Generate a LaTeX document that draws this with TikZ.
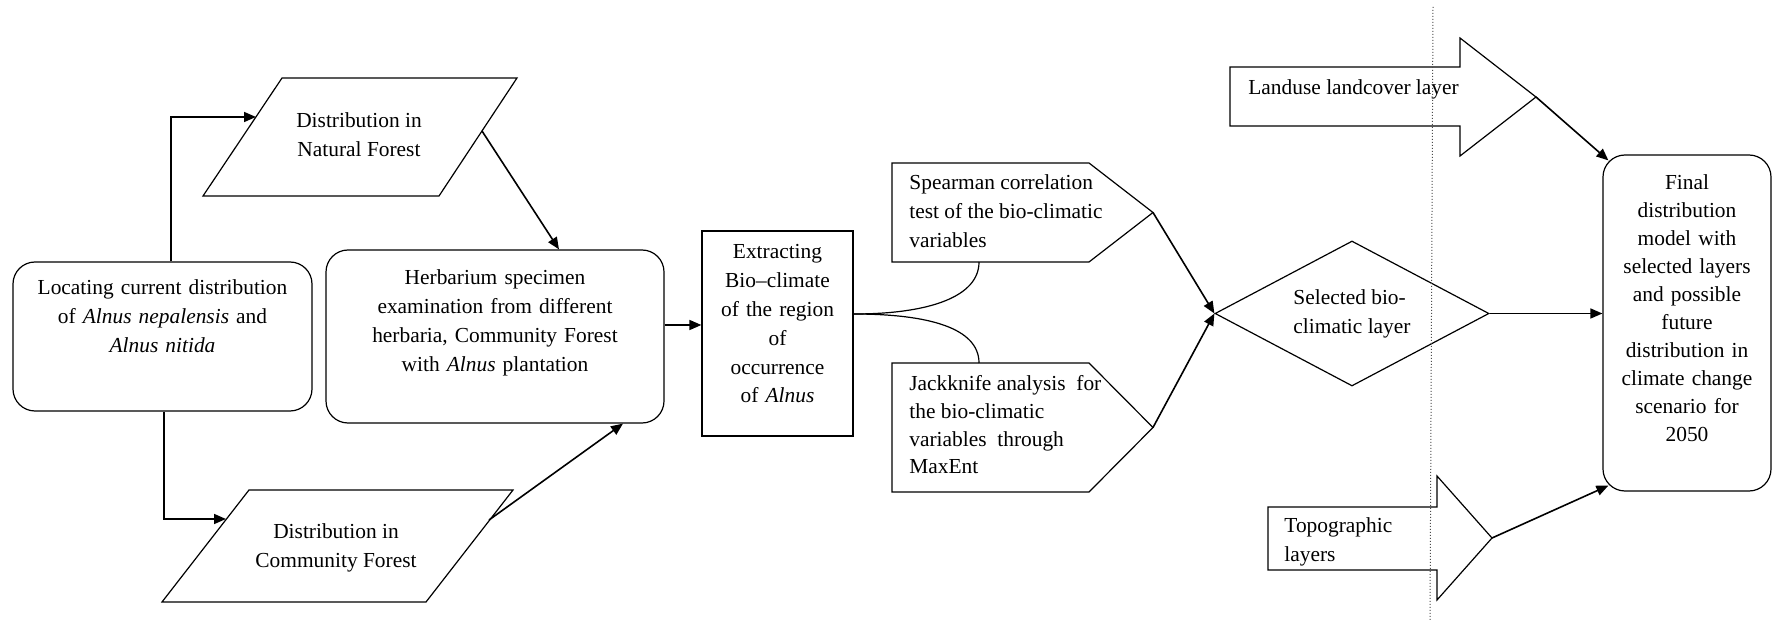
\documentclass[tikz,border=0pt]{standalone}
\usepackage{fontspec}
\setmainfont{Liberation Serif}
\usetikzlibrary{arrows.meta,shapes.geometric,calc}
\begin{document}
\begin{tikzpicture}[x=0.5pt,y=-0.5pt,
  txt/.style={font=\fontsize{10.7pt}{14.4pt}\selectfont,inner sep=0pt},
  box/.style={txt,draw,line width=0.6pt,align=center},
  roundbox/.style={box,rounded corners=11pt},
  shapeline/.style={draw,line width=0.6pt},
  arr/.style={line width=0.8pt,-{Triangle[length=6pt,width=5pt]}}]
\useasboundingbox (0,0) rectangle (1774,620);

\node[roundbox,text width=149.5pt,text height=16.5pt,text depth=58pt] (loc) at (162.5,336.5) {Locating current distribution\\of \emph{Alnus nepalensis} and\\\emph{Alnus nitida}};
\node[roundbox,text width=169pt,text height=17.5pt,text depth=69pt] (herb) at (495,336.5) {Herbarium specimen\\examination from different\\herbaria, Community Forest\\with \emph{Alnus} plantation};
\node[box,text width=75.5pt,text height=14pt,text depth=88.5pt] (extract) at (777.5,333.5) {Extracting\\Bio--climate\\of the region\\of\\occurrence\\of \emph{Alnus}};
\node[roundbox,font=\fontsize{10.7pt}{13.95pt}\selectfont,text width=84pt,text height=17.5pt,text depth=150.5pt] (final) at (1687,323) {Final\\distribution\\model with\\selected layers\\and possible\\future\\distribution in\\climate change\\scenario for\\2050};
\node[box,shape=diamond,aspect=1.9,minimum width=137pt,minimum height=72.5pt,align=left] (sel) at (1352,313.5) {Selected bio-\\climatic layer};

\path[shapeline] (203,196) -- (439,196) -- (517,78) -- (282,78) -- cycle;
\node[txt,align=center] (nf) at (359,135) {Distribution in\\Natural Forest};
\path[shapeline] (162,602) -- (426,602) -- (513,490) -- (249,490) -- cycle;
\node[txt,align=center] (cf) at (336,548) {Distribution in\\Community Forest};
\coordinate (nfin) at (256,117);
\coordinate (nfout) at (482,131);
\coordinate (cfin) at (226,519);
\coordinate (cfout) at (489,520);

\path[shapeline] (892,163) -- (1089,163) -- (1153,212.5) coordinate (speartip) -- (1089,262) -- (892,262) -- cycle;
\node[txt,align=left,anchor=west] (spear) at (909,211) {Spearman correlation\\test of the bio-climatic\\variables};
\path[shapeline] (892,363) -- (1089,363) -- (1153,427.5) coordinate (jacktip) -- (1089,492) -- (892,492) -- cycle;
\node[txt,font=\fontsize{10.7pt}{13.85pt}\selectfont,align=left,anchor=west] (jack) at (909,425) {Jackknife analysis\ \ for\\the bio-climatic\\variables\ \ through\\MaxEnt};
\coordinate (spearbot) at (979,262);
\coordinate (jacktop) at (979,363);

\path[shapeline] (1230,67) -- (1460,67) -- (1460,38) -- (1536,97) coordinate (lutip) -- (1460,156) -- (1460,126) -- (1230,126) -- cycle;
\node[txt,anchor=base west] (landuse) at (1248,94.5) {Landuse landcover layer};
\path[shapeline] (1268,507) -- (1437,507) -- (1437,476) -- (1492,538) coordinate (totip) -- (1437,600) -- (1437,570) -- (1268,570) -- cycle;
\node[txt,align=left,anchor=west] (topo) at (1284,541.5) {Topographic\\layers};

\path[draw,densely dotted,line width=0.5pt,black!70] (1433,7) -- (1430,620);

\path[draw,arr] ($(loc.north)+(8.5,0)$) |- (nfin);
\path[draw,arr] ($(loc.south)+(1.5,0)$) |- (cfin);
\path[draw,arr] (nfout) -- ($(herb.north)+(64,0)$);
\path[draw,arr] (cfout) -- ($(herb.south)+(128,0)$);
\path[draw,arr] ($(herb.east)+(0,-11.5)$) -- ($(extract.west)+(0,-8.5)$);
\path[draw,line width=0.6pt] ($(extract.east)+(0,-19.5)$) .. controls +(75,0) and +(0,35) .. (spearbot);
\path[draw,line width=0.6pt] ($(extract.east)+(0,-19.5)$) .. controls +(75,0) and +(0,-35) .. (jacktop);
\path[draw,arr] (speartip) -- (sel.west);
\path[draw,arr] (jacktip) -- (sel.west);
\path[draw,arr] (sel.east) -- (sel.east -| final.west);
\path[draw,arr] (lutip) -- ($(final.north west)+(6,6)$);
\path[draw,arr] (totip) -- ($(final.south west)+(6,-6)$);
\end{tikzpicture}
\end{document}
